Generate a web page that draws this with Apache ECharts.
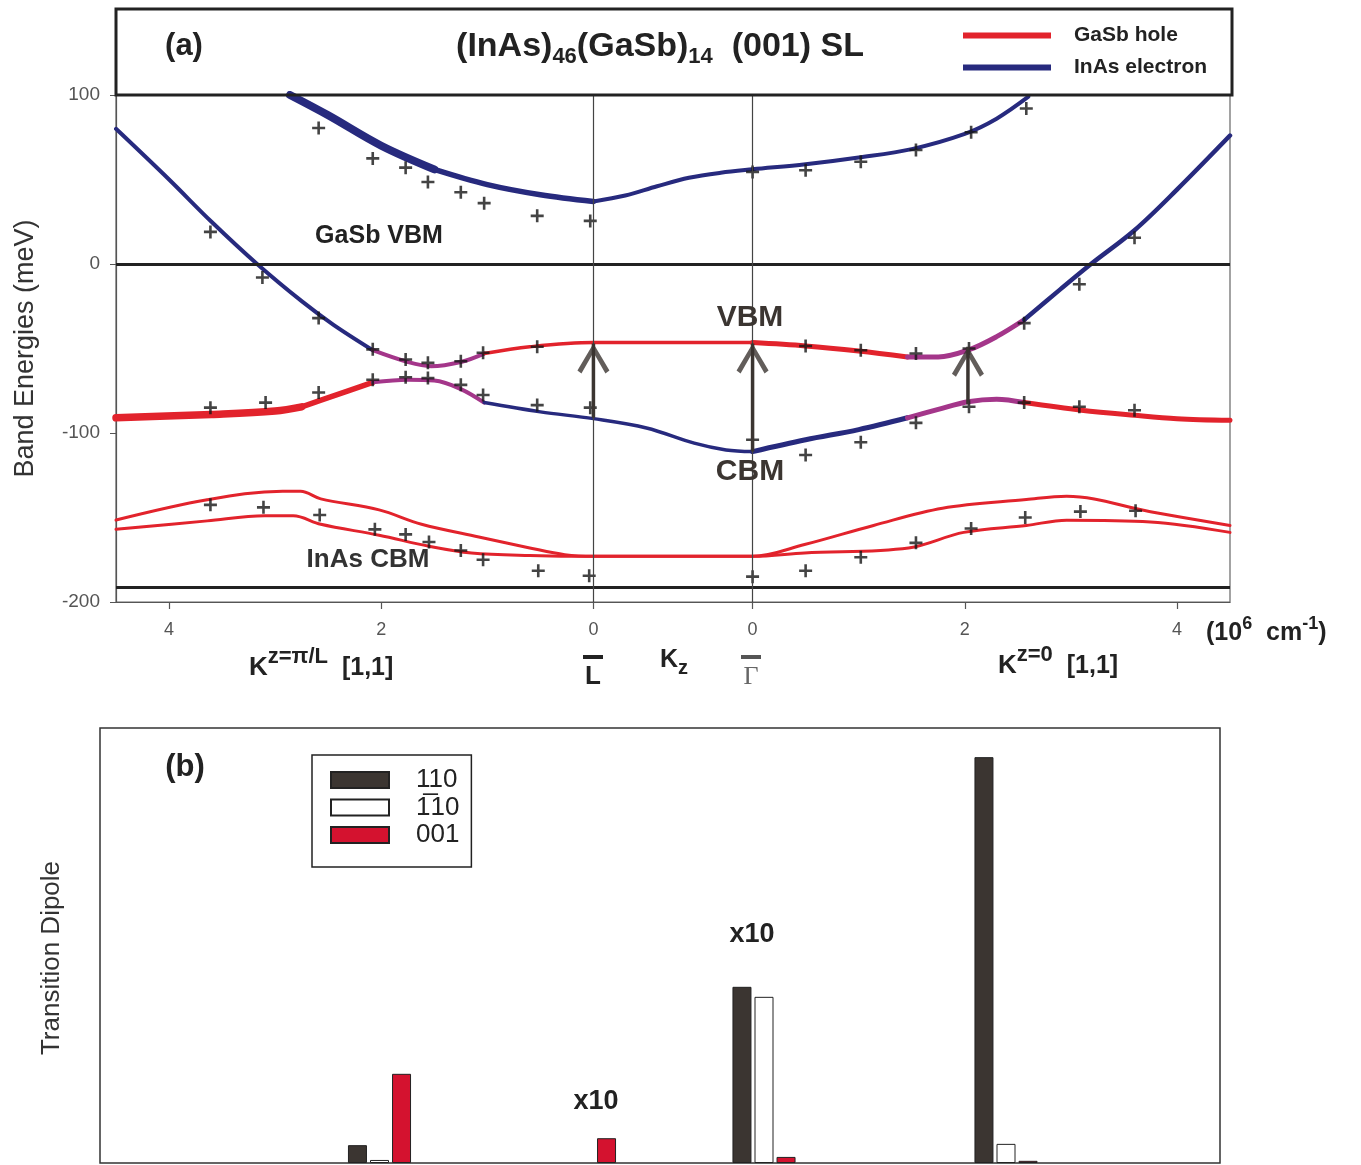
<!DOCTYPE html>
<html><head><meta charset="utf-8">
<script src="https://cdn.jsdelivr.net/npm/echarts@6/dist/echarts.min.js"></script>
<style>html,body{margin:0;padding:0;background:#fff}#c{width:1361px;height:1165px}</style>
</head><body><div id="c"></div>
<script>
// ---------- DATA (panel a: path coordinate u along K-path; L at 4.5, Gamma at 6.0) ----------
const kTicks = [0.5, 2.5, 4.5, 6, 8, 10];
const kTickLabels = ['4', '2', '0', '0', '2', '4'];

// upper InAs electron band
const bandUpper = [[1.64,100],[2.0,88],[2.5,70],[3.0,56],[3.5,47],[4.0,41],[4.5,37],
  [4.8,40.5],[5.1,46],[5.4,51],[5.7,54],[6.0,56],
  [6.5,59],[7.0,63],[7.5,68],[8.0,77],[8.3,86],[8.6,99]];
// hybridised branch A (electron at edges, VBM in centre)
const bandA = [[0,80],[0.5,50],[0.9,25],[1.33,0],[1.75,-22],[2.05,-36],[2.42,-51],
  [2.75,-58],[2.97,-60.5],[3.25,-58],[3.47,-53],
  [3.9,-49],[4.5,-46.5],[5.0,-46.5],[5.5,-46.5],[6.0,-46.5],
  [6.5,-48.5],[7.0,-51.5],[7.46,-55],
  [7.75,-55],[8.03,-51],[8.3,-43],[8.56,-33],
  [8.9,-15],[9.19,0],[9.6,20],[10.0,44],[10.5,76]];
// hybridised branch B (hole at edges, CBM in centre)
const bandB = [[0,-91],[0.9,-89],[1.5,-87],[1.75,-84.5],[2.05,-78],[2.42,-70],
  [2.75,-68.5],[3.0,-69],[3.25,-74],[3.47,-82],
  [4.0,-87.5],[4.5,-91.5],[5.0,-97],[5.45,-106],[5.75,-110],[6.0,-111],
  [6.5,-104],[7.0,-98],[7.46,-91],
  [7.75,-86],[8.03,-81.5],[8.3,-80],[8.56,-82],
  [9.1,-86.5],[9.6,-89.5],[10.0,-91.5],[10.5,-92.5]];
// InAs CBM pair (hole-like lower bands)
const cbmUpper = [[0,-151.5],[0.86,-139.5],[1.57,-134.5],[1.74,-134.5],[1.93,-139],[2.48,-145.5],
  [2.88,-154],[3.42,-161.5],[3.9,-168],[4.23,-172],[4.5,-173],[5.25,-173],[6.0,-173],
  [6.49,-166],[7.14,-154.7],[7.79,-144.5],[8.58,-139.4],[8.96,-137.4],[9.75,-146.6],[10.5,-154.7]];
const cbmLower = [[0,-157],[0.86,-152],[1.4,-149],[1.67,-149],[1.93,-154],[2.48,-160.5],
  [2.95,-167],[3.35,-171],[3.9,-172.5],[4.5,-173],[5.25,-173],[6.0,-173],
  [6.49,-171],[7.47,-168],[7.99,-158.8],[8.58,-154.7],[8.96,-151.6],[9.75,-152.6],[10.5,-158.8]];

// calculated points (+)
const crossUpper = [[1.91,80.5],[2.42,62.5],[2.73,57],[2.94,48.5],[3.25,42.5],[3.47,36],[3.97,28.5],[4.47,25.5],
  [6.0,54.5],[6.5,55.5],[7.02,60.5],[7.54,67.5],[8.06,78],[8.58,92]];
const crossA = [[0.89,19],[1.38,-8],[1.91,-32],[2.42,-50.5],[2.73,-56.5],[2.94,-58.5],[3.25,-57.5],[3.46,-52.5],[3.97,-49],
  [6.5,-48.5],[7.02,-51],[7.54,-53],[8.04,-50],[8.56,-35],[9.08,-12],[9.6,15.5]];
const crossB = [[0.89,-85],[1.41,-82],[1.91,-76],[2.42,-68.5],[2.73,-67],[2.94,-67.5],[3.25,-71.5],[3.46,-77.5],[3.97,-83.5],[4.47,-85],
  [6.0,-104],[6.5,-113],[7.02,-105.5],[7.54,-94],[8.04,-84.5],[8.56,-82],[9.08,-84.5],[9.6,-86.5]];
const crossCBM = [[0.89,-142.5],[1.39,-144],[1.92,-148.5],[2.44,-157],[2.73,-160],[2.95,-164.5],[3.25,-169.5],[3.46,-175],[3.98,-181.5],[4.46,-184.5],
  [6.0,-185],[6.5,-181.5],[7.02,-173.5],[7.54,-165],[8.06,-156.5],[8.57,-150],[9.09,-146.5],[9.61,-146]];

// optical transitions: [u, from E, to E]
const transitions = [[4.5,-91,-47],[6.0,-111,-47],[8.03,-83,-49]];
const refEnergies = [0, -191];       // GaSb VBM, InAs CBM reference lines
const symPoints = [4.5, 6.0];        // L and Gamma

// ---------- DATA (panel b) ----------
const groupPos = [2.795, 4.845, 6.64, 9.06];
const dip110 = [4.1, '-', 40.5, 93.3];
const dip1b10 = [0.7, '-', 38.2, 4.4];
const dip001 = [20.5, 5.7, 1.4, 0.5];

// ---------- STYLE ----------
const FONT = "'Liberation Sans', Arial, Helvetica, sans-serif";
const BLUE = '#272a7e', RED = '#e2232c', PURPLE = '#a4368a', DARK = '#3b3531';
const PLUS = 'path://M4.8,0 H7.2 V4.8 H12 V7.2 H7.2 V12 H4.8 V7.2 H0 V4.8 H4.8 Z';
const CHEVRON = 'path://M16,0 L32,27 L28,30 L16,9 L4,30 L0,27 Z';

const series = [];
function seg(data, a, b, color, w, name) {
  series.push({type: 'line', name: name, xAxisIndex: 0, yAxisIndex: 0, data: data.slice(a, b + 1),
    smooth: 0.35, symbol: 'none', silent: true, z: 3,
    lineStyle: {color: color, width: w, cap: 'round', join: 'round'}, itemStyle: {color: color}});
}
// bandA segments
seg(bandA, 0, 6, BLUE, 4, 'InAs electron');
seg(bandA, 6, 10, PURPLE, 4, 'mixed');
seg(bandA, 10, 15, RED, 3.5, 'GaSb hole');
seg(bandA, 15, 18, RED, 5, 'GaSb hole');
seg(bandA, 18, 22, PURPLE, 5, 'mixed');
seg(bandA, 22, 27, BLUE, 4.5, 'InAs electron');
// bandB segments
seg(bandB, 0, 3, RED, 7.5, 'GaSb hole');
seg(bandB, 3, 5, RED, 5.5, 'GaSb hole');
seg(bandB, 5, 9, PURPLE, 4, 'mixed');
seg(bandB, 9, 15, BLUE, 3.5, 'InAs electron');
seg(bandB, 15, 18, BLUE, 5, 'InAs electron');
seg(bandB, 18, 22, PURPLE, 5, 'mixed');
seg(bandB, 22, 26, RED, 5, 'GaSb hole');
// upper electron band
seg(bandUpper, 0, 3, BLUE, 8, 'InAs electron');
seg(bandUpper, 3, 6, BLUE, 5.5, 'InAs electron');
seg(bandUpper, 6, 17, BLUE, 4, 'InAs electron');
// InAs CBM pair
seg(cbmUpper, 0, cbmUpper.length - 1, RED, 3, 'GaSb hole');
seg(cbmLower, 0, cbmLower.length - 1, RED, 3, 'GaSb hole');

// reference lines
series.push({type: 'line', xAxisIndex: 0, yAxisIndex: 0, data: [], silent: true, z: 1,
  markLine: {silent: true, symbol: 'none', label: {show: false}, animation: false,
    data: refEnergies.map(e => ({yAxis: e, lineStyle: {color: '#222', width: 3, type: 'solid'}}))
      .concat(symPoints.map(u => ({xAxis: u, lineStyle: {color: '#444', width: 1.2, type: 'solid'}})))}});

// crosses
[crossUpper, crossA, crossB, crossCBM].forEach(d => series.push({type: 'scatter', xAxisIndex: 0, yAxisIndex: 0,
  data: d, symbol: PLUS, symbolSize: 13, itemStyle: {color: '#151515'}, silent: true, z: 4}));

// transition arrows
transitions.forEach(t => {
  series.push({type: 'line', xAxisIndex: 0, yAxisIndex: 0, data: [[t[0], t[1]], [t[0], t[2]]],
    symbol: 'none', silent: true, z: 5, lineStyle: {color: DARK, width: 3.5}});
  series.push({type: 'scatter', xAxisIndex: 0, yAxisIndex: 0, data: [[t[0], t[2]]],
    symbol: CHEVRON, symbolSize: [32, 30], symbolOffset: [0, '50%'], itemStyle: {color: DARK}, silent: true, z: 6});
});

// panel b bars
const barNames = ['110', '1\u030510', '001'];
const barColors = [DARK, '#ffffff', '#d4122f'];
[dip110, dip1b10, dip001].forEach((vals, i) => series.push({type: 'bar', name: barNames[i], xAxisIndex: 1, yAxisIndex: 1,
  data: groupPos.map((p, j) => [p, vals[j]]), barWidth: 19, barGap: '16%', silent: true,
  itemStyle: {color: barColors[i], borderColor: '#222', borderWidth: 1}}));

// ---------- TEXT / DECORATION ----------
function T(x, y, text, size, opts) {
  opts = opts || {};
  return {type: 'text', x: x, y: y, rotation: opts.rotation || 0, silent: true, z: 20, style: Object.assign({text: text, fontSize: size,
    fontWeight: opts.weight || 'bold', fontFamily: opts.family || FONT, fill: opts.fill || '#222',
    align: opts.align || 'center', verticalAlign: 'middle'}, opts.style || {})};
}
const rs = (fs, va, lh) => ({fontSize: fs, fontWeight: 'bold', fontFamily: FONT, fill: '#222', verticalAlign: va, lineHeight: lh});

const graphic = [
  {type: 'rect', shape: {x: 116, y: 9, width: 1116, height: 86}, style: {fill: 'none', stroke: '#222', lineWidth: 3}, silent: true, z: 10},
  T(184, 46, '(a)', 31),
  T(660, 47, '(InAs){s|46}(GaSb){s|14}  (001) SL', 34, {style: {lineHeight: 42, rich: {s: rs(22, 'bottom', 20)}}}),
  T(379, 236, 'GaSb VBM', 25),
  T(750, 318, 'VBM', 30, {fill: DARK}),
  T(750, 472, 'CBM', 30, {fill: DARK}),
  T(368, 560, 'InAs CBM', 26, {fill: '#333'}),
  // x axis row 2
  T(249, 668, 'K{p|z=\u03c0/L}{b|  [1,1]}', 26, {align: 'left', style: {lineHeight: 44, rich: {p: rs(22, 'top', 24), b: rs(25, 'middle', 38)}}}),
  T(593, 677, 'L', 26),
  T(660, 660, 'K{z|z}', 25, {align: 'left', style: {lineHeight: 36, rich: {z: rs(20, 'bottom', 20)}}}),
  T(751, 677, '\u0393', 26, {weight: 'normal', family: "'Liberation Serif', 'DejaVu Serif', serif", fill: '#666'}),
  T(998, 666, 'K{p|z=0}{b|  [1,1]}', 26, {align: 'left', style: {lineHeight: 44, rich: {p: rs(22, 'top', 24), b: rs(25, 'middle', 38)}}}),
  T(1206, 633, '(10{p|6}  cm{p|-1})', 25, {align: 'left', style: {lineHeight: 36, rich: {p: rs(18, 'top', 20)}}}),
  {type: 'rect', shape: {x: 583, y: 655, width: 20, height: 4}, style: {fill: '#222'}, silent: true, z: 20},
  {type: 'rect', shape: {x: 741, y: 655, width: 20, height: 4}, style: {fill: '#555'}, silent: true, z: 20},
  // panel b
  T(185, 767, '(b)', 31),
  T(596, 1102, 'x10', 27),
  T(752, 935, 'x10', 27),
  T(52, 958, 'Transition Dipole', 26, {weight: 'normal', fill: '#333', rotation: Math.PI / 2})
];

const chart = echarts.init(document.getElementById('c'), null, {renderer: 'canvas'});
chart.setOption({
  animation: false,
  backgroundColor: '#ffffff',
  textStyle: {fontFamily: FONT},
  grid: [
    {left: 116, top: 95, width: 1114, height: 507, show: true, borderColor: '#666', borderWidth: 1.2, backgroundColor: 'transparent'},
    {left: 100, top: 728, width: 1120, height: 435, show: true, borderColor: '#333', borderWidth: 1.5, backgroundColor: 'transparent'}
  ],
  xAxis: [
    {gridIndex: 0, type: 'value', min: 0, max: 10.5,
      axisLine: {show: true, onZero: false, lineStyle: {color: '#555', width: 1.2}},
      axisTick: {show: true, customValues: kTicks, length: 7, lineStyle: {color: '#555', width: 1.2}},
      axisLabel: {customValues: kTicks, fontSize: 18, color: '#555', margin: 19,
        formatter: function (v) { let best = 0; kTicks.forEach((t, i) => { if (Math.abs(t - v) < Math.abs(kTicks[best] - v)) best = i; }); return kTickLabels[best]; }},
      splitLine: {show: false}},
    {gridIndex: 1, type: 'value', min: 0, max: 11.2, show: false}
  ],
  yAxis: [
    {gridIndex: 0, type: 'value', min: -200, max: 100, interval: 100,
      name: 'Band Energies (meV)', nameLocation: 'middle', nameGap: 77,
      nameTextStyle: {fontSize: 27, color: '#333', fontFamily: FONT},
      axisLine: {show: true, lineStyle: {color: '#555', width: 1.2}},
      axisTick: {show: true, length: 6, lineStyle: {color: '#555'}},
      axisLabel: {fontSize: 19, color: '#555', margin: 16},
      splitLine: {show: false}},
    {gridIndex: 1, type: 'value', min: 0, max: 100,
      axisLine: {show: false}, axisTick: {show: false}, axisLabel: {show: false}, splitLine: {show: false}}
  ],
  legend: [
    {data: ['GaSb hole', 'InAs electron'], orient: 'vertical', left: 958, top: 20, icon: 'rect',
      itemWidth: 88, itemHeight: 6, itemGap: 11, selectedMode: false,
      textStyle: {fontSize: 21, fontWeight: 'bold', color: '#222', padding: [0, 0, 0, 18]}},
    {data: barNames, orient: 'vertical', left: 312, top: 755, icon: 'rect',
      itemWidth: 58, itemHeight: 16, itemGap: 1.5, selectedMode: false,
      borderColor: '#222', borderWidth: 1.5, padding: [12, 12, 19, 18],
      textStyle: {fontSize: 26, color: '#222', padding: [0, 0, 0, 22]}}
  ],
  series: series,
  graphic: graphic
});
</script></body></html>
